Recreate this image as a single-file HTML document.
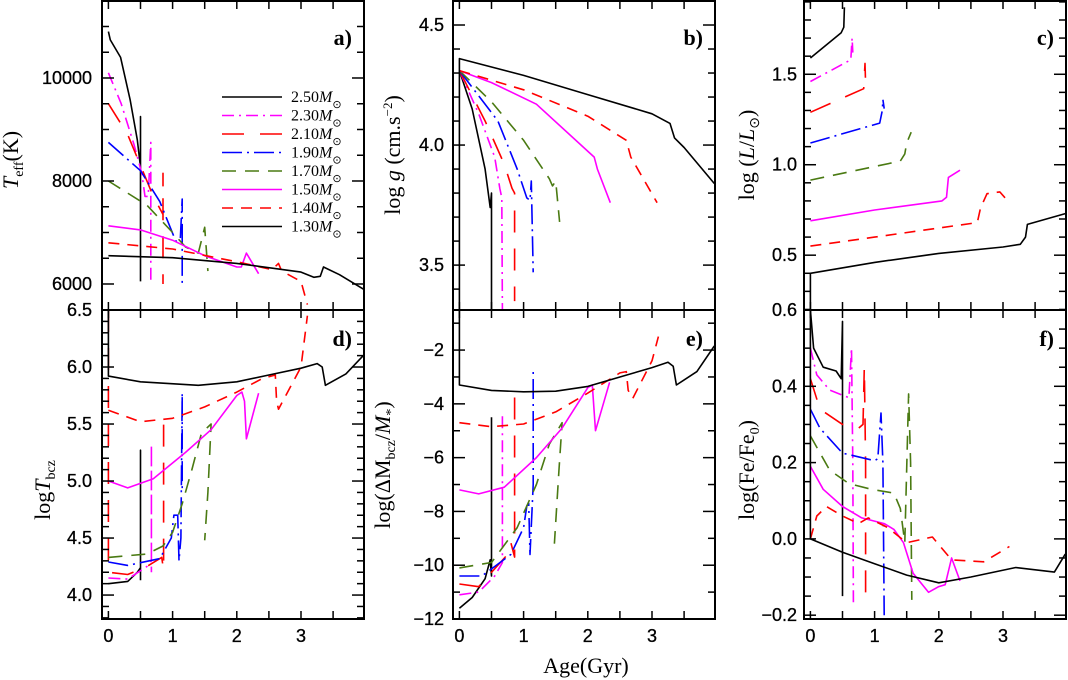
<!DOCTYPE html>
<html><head><meta charset="utf-8"><style>
html,body{margin:0;padding:0;background:#fff;}
svg{display:block;font-family:"Liberation Sans",sans-serif;}
.tl{font-size:18px;fill:#000;stroke:#000;stroke-width:0.3;}
.ttl{font-size:22px;fill:#000;font-family:"Liberation Serif",serif;}
.lg{font-size:16px;font-family:"Liberation Serif",serif;}
.pl{font-size:22px;font-weight:bold;font-family:"Liberation Serif",serif;}
</style></head><body>
<svg id="chart" width="1068" height="680" viewBox="0 0 1068 680">
<text x="18" y="160" class="ttl" transform="rotate(-90 18 160)" text-anchor="middle"><tspan font-style="italic">T</tspan><tspan font-size="14" dy="5">eff</tspan><tspan dy="-5">(K)</tspan></text>
<text x="50" y="490" class="ttl" transform="rotate(-90 50 490)" text-anchor="middle">log<tspan font-style="italic">T</tspan><tspan font-size="14" dy="5">bcz</tspan></text>
<text x="400" y="155" class="ttl" transform="rotate(-90 400 155)" text-anchor="middle">log <tspan font-style="italic">g</tspan> (cm.s<tspan font-size="13" dy="-8">−2</tspan><tspan dy="8">)</tspan></text>
<text x="390" y="465" class="ttl" transform="rotate(-90 390 465)" text-anchor="middle">log(ΔM<tspan font-size="14" dy="5">bcz</tspan><tspan dy="-5">/</tspan><tspan font-style="italic">M</tspan><tspan font-size="14" dy="5">*</tspan><tspan dy="-5">)</tspan></text>
<text x="754" y="155" class="ttl" transform="rotate(-90 754 155)" text-anchor="middle">log (<tspan font-style="italic">L</tspan>/<tspan font-style="italic">L</tspan><tspan font-size="14" dy="5">⊙</tspan><tspan dy="-5">)</tspan></text>
<text x="754" y="470" class="ttl" transform="rotate(-90 754 470)" text-anchor="middle">log(Fe/Fe<tspan font-size="14" dy="5">0</tspan><tspan dy="-5">)</tspan></text>
<text x="586" y="673" class="ttl" text-anchor="middle">Age(Gyr)</text>
</svg>
<script>
// ---- data: [age (Gyr), value] per mass ----
const masses = ["2.50","2.30","2.10","1.90","1.70","1.50","1.40","1.30"];
// panel a: Teff (K)
const a_m250=[[0,10900],[0.03,10740],[0.19,10400],[0.34,9570],[0.45,8800],[0.5,8270],[0.5,9250],[0.5,6050]];
const a_m230=[[0,10100],[0.2,9500],[0.4,8700],[0.52,8150],[0.57,7700],[0.62,7700],[0.66,8750],[0.66,6050]];
const a_m210=[[0,9500],[0.3,8900],[0.5,8300],[0.7,7700],[0.85,7350],[0.85,8150],[0.85,6000]];
const a_m190=[[0,8750],[0.5,8200],[0.8,7600],[1.05,6830],[1.12,6870],[1.15,7650],[1.15,6000]];
const a_m170=[[0,8000],[0.6,7530],[1.0,7000],[1.2,6720],[1.4,6600],[1.5,7100],[1.55,6250]];
const a_m150=[[0,7130],[0.5,7050],[1.0,6850],[1.5,6550],[2.0,6330],[2.07,6330],[2.15,6600],[2.34,6200]];
const a_m140=[[0,6800],[1,6680],[2,6430],[2.55,6280],[2.65,6400],[2.7,6250],[3.0,6050],[3.1,5600]];
const a_m130=[[0,6550],[1,6510],[2,6400],[3,6230],[3.2,6130],[3.3,6150],[3.35,6330],[3.6,6180],[3.97,5900]];
// panel b: log g
const b_m250=[[0,4.31],[0.2,4.15],[0.4,3.9],[0.48,3.74],[0.5,3.8],[0.5,3.31]];
const b_m230=[[0,4.31],[0.3,4.13],[0.55,3.95],[0.63,3.82],[0.66,3.78],[0.67,3.31]];
const b_m210=[[0,4.31],[0.4,4.1],[0.7,3.92],[0.82,3.82],[0.86,3.8],[0.86,3.35]];
const b_m190=[[0,4.31],[0.6,4.1],[0.9,3.9],[1.05,3.78],[1.1,3.77],[1.12,3.85],[1.15,3.47]];
const b_m170=[[0,4.31],[0.5,4.18],[1.0,4.02],[1.4,3.86],[1.45,3.83],[1.5,3.85],[1.56,3.68]];
const b_m150=[[0,4.31],[0.5,4.26],[1.2,4.17],[2.1,3.95],[2.15,3.9],[2.35,3.76]];
const b_m140=[[0,4.31],[1.0,4.23],[2.0,4.12],[2.6,4.02],[2.67,3.95],[3.08,3.76]];
const b_m130=[[0,3.31],[0,4.36],[1.0,4.29],[2.0,4.21],[3.0,4.13],[3.28,4.09],[3.35,4.03],[3.5,3.99],[3.97,3.84]];
// panel c: log L
const c_m250=[[0,1.59],[0.48,1.73],[0.52,1.76],[0.53,1.87]];
const c_m230=[[0,1.46],[0.63,1.58],[0.65,1.7],[0.66,1.62]];
const c_m210=[[0,1.29],[0.83,1.42],[0.85,1.56],[0.86,1.45]];
const c_m190=[[0,1.12],[1.08,1.23],[1.12,1.3],[1.13,1.36],[1.15,1.31]];
const c_m170=[[0,0.915],[1.4,1.02],[1.47,1.06],[1.5,1.12],[1.57,1.18]];
const c_m150=[[0,0.69],[1,0.75],[2.05,0.8],[2.12,0.82],[2.15,0.93],[2.33,0.97]];
const c_m140=[[0,0.55],[1,0.6],[2,0.65],[2.6,0.68],[2.65,0.76],[2.75,0.84],[2.95,0.85],[3.1,0.79]];
const c_m130=[[0,0.2],[0,0.4],[1,0.46],[2,0.51],[3,0.545],[3.27,0.56],[3.35,0.6],[3.38,0.67],[3.97,0.73]];
// panel d: log Tbcz
const d_m250=[[0,4.1],[0.3,4.12],[0.45,4.2],[0.5,4.24],[0.5,5.27],[0.5,4.13]];
const d_m230=[[0,4.15],[0.3,4.14],[0.6,4.25],[0.67,4.3],[0.67,5.32],[0.67,4.2]];
const d_m210=[[0,6.5],[0,4.2],[0.3,4.18],[0.6,4.25],[0.83,4.33],[0.86,4.22],[0.86,5.52]];
const d_m190=[[0,4.29],[0.3,4.26],[0.8,4.32],[0.98,4.5],[1.02,4.7],[1.08,4.7],[1.1,4.3],[1.13,4.5],[1.15,5.77],[1.15,4.9]];
const d_m170=[[0,4.33],[0.6,4.36],[0.85,4.43],[1.0,4.55],[1.15,4.8],[1.3,5.1],[1.45,5.42],[1.6,5.5],[1.55,4.9],[1.5,4.48]];
const d_m150=[[0,5.0],[0.3,4.94],[0.7,5.02],[1.2,5.25],[1.6,5.45],[2.0,5.75],[2.08,5.78],[2.12,5.7],[2.15,5.37],[2.34,5.77]];
const d_m140=[[0,5.62],[0.5,5.52],[1.0,5.55],[1.5,5.65],[2.0,5.78],[2.4,5.9],[2.6,5.93],[2.62,5.7],[2.65,5.63],[3.0,6.0],[3.1,6.45]];
const d_m130=[[0,6.5],[0,5.92],[0.5,5.87],[1.4,5.84],[2.0,5.87],[2.5,5.93],[3.0,5.99],[3.25,6.03],[3.33,6.0],[3.38,5.84],[3.7,5.94],[3.97,6.1]];
// panel e: log(dM_bcz/M*)
const e_m250=[[0,-11.6],[0.2,-11.2],[0.4,-10.5],[0.48,-9.8],[0.5,-10.4],[0.5,-4.5]];
const e_m230=[[0,-11.1],[0.3,-11.0],[0.55,-10.4],[0.67,-9.9],[0.67,-4.3]];
const e_m210=[[0,-10.7],[0.3,-10.8],[0.75,-9.6],[0.8,-9.15],[0.86,-9.7],[0.86,-3.7]];
const e_m190=[[0,-10.4],[0.35,-10.4],[0.8,-9.6],[1.0,-8.6],[1.05,-7.8],[1.08,-7.7],[1.1,-9.6],[1.15,-7.0],[1.15,-2.7]];
const e_m170=[[0,-10.1],[0.5,-9.9],[0.9,-8.6],[1.2,-7.0],[1.4,-5.5],[1.6,-4.7],[1.55,-6.5],[1.48,-9.2]];
const e_m150=[[0,-7.2],[0.3,-7.35],[0.7,-7.1],[1.2,-6.0],[1.6,-4.9],[2.0,-3.4],[2.07,-3.3],[2.12,-5.0],[2.34,-3.2]];
const e_m140=[[0,-4.7],[0.5,-4.85],[1.0,-4.75],[1.5,-4.3],[2.0,-3.6],[2.5,-2.85],[2.6,-2.8],[2.63,-3.5],[2.7,-3.8],[3.0,-2.4],[3.1,-1.5]];
const e_m130=[[0,-0.5],[0,-3.3],[0.5,-3.5],[1.0,-3.55],[1.5,-3.53],[2.0,-3.35],[2.5,-3.0],[3.0,-2.65],[3.25,-2.45],[3.33,-2.6],[3.38,-3.3],[3.7,-2.8],[3.97,-1.85]];
// panel f: log(Fe/Fe0)
const f_m250=[[0,0.6],[0.05,0.5],[0.2,0.45],[0.4,0.44],[0.48,0.42],[0.5,0.57],[0.5,-0.15]];
const f_m230=[[0,0.5],[0.1,0.43],[0.3,0.39],[0.6,0.37],[0.64,0.5],[0.66,0.2],[0.67,-0.17]];
const f_m210=[[0,0.42],[0.15,0.34],[0.5,0.3],[0.75,0.29],[0.82,0.3],[0.84,0.45],[0.86,0.2],[0.86,-0.15]];
const f_m190=[[0,0.34],[0.15,0.29],[0.5,0.225],[1.0,0.205],[1.05,0.21],[1.1,0.33],[1.13,0.2],[1.15,-0.2]];
const f_m170=[[0,0.27],[0.3,0.18],[0.6,0.145],[0.95,0.13],[1.3,0.12],[1.4,0.08],[1.47,-0.01],[1.53,0.38],[1.56,0.2],[1.58,-0.16]];
const f_m150=[[0,0.19],[0.2,0.13],[0.5,0.085],[0.8,0.055],[1.15,0.04],[1.3,0.025],[1.45,-0.01],[1.6,-0.09],[1.84,-0.14],[2.0,-0.125],[2.1,-0.12],[2.2,-0.05],[2.33,-0.11]];
const f_m140=[[0,0],[0.1,0.06],[0.25,0.085],[0.5,0.06],[0.75,0.04],[0.9,0.055],[1.2,0.03],[1.5,-0.01],[1.9,0.005],[2.2,-0.055],[2.7,-0.06],[3.1,-0.02]];
const f_m130=[[0,0.6],[0,0],[0.5,-0.035],[1.0,-0.065],[1.5,-0.095],[2.0,-0.115],[2.5,-0.1],[3.2,-0.075],[3.8,-0.087],[3.97,-0.04]];
const xTicks=[0,1,2,3];
const aTicks=[6000,8000,10000], bTicks=[3.5,4.0,4.5], cTicks=[0.5,1.0,1.5];
const dTicks=[4.0,4.5,5.0,5.5,6.0,6.5], eTicks=[-2,-4,-6,-8,-10,-12], fTicks=[-0.2,0.0,0.2,0.4,0.6];
const aLabels=["6000","8000","10000"], bLabels=["3.5","4.0","4.5"], cLabels=["0.5","1.0","1.5"];
const dLabels=["4.0","4.5","5.0","5.5","6.0","6.5"], eLabels=["−2","−4","−6","−8","−10","−12"], fLabels=["−0.2","0.0","0.2","0.4","0.6"];

const styles=[
 {c:"#000",d:""},{c:"#ff00ff",d:"12 5 2 5"},{c:"#ff0000",d:"22 16"},{c:"#0000ff",d:"20 5 2 5"},
 {c:"#4a7a12",d:"14 9"},{c:"#ff00ff",d:""},{c:"#ff0000",d:"11 8"},{c:"#000",d:""}];
const NS="http://www.w3.org/2000/svg";
const svg=document.getElementById("chart");
function mk(tag,attrs,parent){const e=document.createElementNS(NS,tag);for(const k in attrs)e.setAttribute(k,attrs[k]);(parent||svg).appendChild(e);return e;}
const W=262, XOFF=6.4, XS=64.2, XMAX=(W-XOFF)/XS;
const panels=[
 {id:"a",L:102,T:1,B:310,ymin:5495,ymax:11495,minor:500,series:[a_m250,a_m230,a_m210,a_m190,a_m170,a_m150,a_m140,a_m130],ticks:aTicks,labels:aLabels,lx:92},
 {id:"b",L:453,T:1,B:310,ymin:3.313,ymax:4.6,minor:0.1,series:[b_m250,b_m230,b_m210,b_m190,b_m170,b_m150,b_m140,b_m130],ticks:bTicks,labels:bLabels,lx:444},
 {id:"c",L:804,T:1,B:310,ymin:0.197,ymax:1.905,minor:0.1,series:[c_m250,c_m230,c_m210,c_m190,c_m170,c_m150,c_m140,c_m130],ticks:cTicks,labels:cLabels,lx:797},
 {id:"d",L:102,T:310,B:619,ymin:3.79,ymax:6.5,minor:0.1,series:[d_m250,d_m230,d_m210,d_m190,d_m170,d_m150,d_m140,d_m130],ticks:dTicks,labels:dLabels,lx:92},
 {id:"e",L:453,T:310,B:619,ymin:-12.0,ymax:-0.51,minor:1,series:[e_m250,e_m230,e_m210,e_m190,e_m170,e_m150,e_m140,e_m130],ticks:eTicks,labels:eLabels,lx:444},
 {id:"f",L:804,T:310,B:619,ymin:-0.21,ymax:0.6,minor:0.05,series:[f_m250,f_m230,f_m210,f_m190,f_m170,f_m150,f_m140,f_m130],ticks:fTicks,labels:fLabels,lx:797}];
panels.forEach(p=>{
 const xs=a=>p.L+XOFF+a*XS;
 const ys=v=>p.B-(v-p.ymin)/(p.ymax-p.ymin)*(p.B-p.T);
 const g=mk("g",{});
 
 
 const cp=mk("clipPath",{id:"clip-"+p.id},g);
 mk("rect",{x:p.L,y:p.T,width:W,height:p.B-p.T},cp);
 const sg=mk("g",{"clip-path":"url(#clip-"+p.id+")"},g);
 p.series.forEach((s,i)=>{
  const d=s.map((pt,j)=>(j?"L":"M")+xs(pt[0]).toFixed(1)+" "+ys(pt[1]).toFixed(1)).join(" ");
  const path=mk("path",{d:d,fill:"none",stroke:styles[i].c,"stroke-width":1.6,"stroke-dasharray":styles[i].d,"stroke-linejoin":"round"},sg);
  
  
 });
 for(let a=0;a<=XMAX+1e-9;a+=0.5){
  const x=xs(a);
  mk("line",{x1:x,x2:x,y1:p.B,y2:p.B-8,stroke:"#000","stroke-width":1.5},g);
  mk("line",{x1:x,x2:x,y1:p.T,y2:p.T+8,stroke:"#000","stroke-width":1.5},g);
 }
 const start=Math.ceil(p.ymin/p.minor-1e-6);
 for(let k=start;k*p.minor<=p.ymax+1e-9;k++){
  const v=k*p.minor, y=ys(v);
  const major=p.ticks.some(t=>Math.abs(t-v)<1e-6);
  const len=major?12:7;
  mk("line",{x1:p.L,x2:p.L+len,y1:y,y2:y,stroke:"#000","stroke-width":1.5},g);
  mk("line",{x1:p.L+W,x2:p.L+W-len,y1:y,y2:y,stroke:"#000","stroke-width":1.5},g);
 }
 p.ticks.forEach((t,i)=>{
  const tx=mk("text",{x:p.lx,y:ys(t)+6,"text-anchor":"end",class:"tl"},g);
  tx.textContent=p.labels[i];
  
  
 });
 if(p.T>300){xTicks.forEach(t=>{
  const tx=mk("text",{x:xs(t),y:642,"text-anchor":"middle",class:"tl"},g);
  tx.textContent=String(t);
  
  
 });}
 const fr=mk("rect",{x:p.L,y:p.T,width:W,height:p.B-p.T,fill:"none",stroke:"#000","stroke-width":2},g);
 
 
 const lab=mk("text",{x:p.L+W-12,y:p.T+(p.T>300?36:44),"text-anchor":"end",class:"pl"},g);
 lab.textContent=p.id+")";
 
 
});
const lgG=mk("g",{});


masses.forEach((m,i)=>{
 const y=97+i*18.5;
 const ln=mk("line",{x1:222,x2:282,y1:y,y2:y,stroke:styles[i].c,"stroke-width":1.6,"stroke-dasharray":styles[i].d},lgG);
 
 
 const t=mk("text",{x:291,y:y+5,class:"lg"},lgG);
 t.innerHTML=m+'<tspan font-style="italic">M</tspan><tspan font-size="11" dy="6">⊙</tspan>';
 
 
});
</script>
</body></html>
